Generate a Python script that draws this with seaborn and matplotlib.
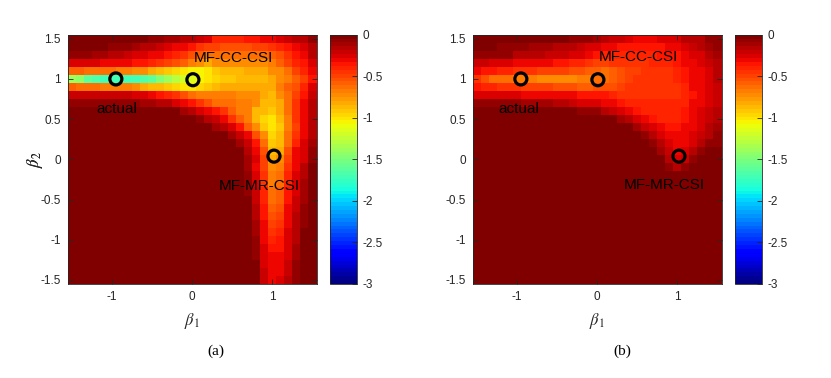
import numpy as np
import pandas as pd
import matplotlib
matplotlib.use("Agg")
import matplotlib.pyplot as plt
import seaborn as sns

# ---------------- data ----------------
beta1 = [-1.5, -1.4, -1.3, -1.2, -1.1, -1.0, -0.9, -0.8, -0.7, -0.6, -0.5, -0.4, -0.3, -0.2, -0.1, 0.0,
         0.1, 0.2, 0.3, 0.4, 0.5, 0.6, 0.7, 0.8, 0.9, 1.0, 1.1, 1.2, 1.3, 1.4, 1.5]
beta2 = [1.5, 1.4, 1.3, 1.2, 1.1, 1.0, 0.9, 0.8, 0.7, 0.6, 0.5, 0.4, 0.3, 0.2, 0.1, 0.0,
         -0.1, -0.2, -0.3, -0.4, -0.5, -0.6, -0.7, -0.8, -0.9, -1.0, -1.1, -1.2, -1.3, -1.4, -1.5]

# each char = level index, value = -index * 0.05 (rows: beta2 from 1.5 down to -1.5)
LEVELS = "0123456789ABCDEFGHIJKLMNOPQRSTUVWXYZ"
STEP = 0.05

rows_a = [
    "0000000000112233458888776654331",
    "00000111233456679AABBBBAA987653",
    "111223345566789BCDDDDDDDDCB9763",
    "555566667789ABCEFGFFFFFFFECA875",
    "CCDDDDEEFFGHIJKLLKIHHHGGGFFDA86",
    "STWXYYYYYXWUSQONLKJIIHHHHGFECA7",
    "CDDDEEEEFGHHIJKKJIHGGGGGGGECB85",
    "44444444556789BDEEEEEFFFGHFDA74",
    "11111111122335679BDDDEEFHHGD963",
    "00000000000000235679CEEHHIGD963",
    "000000000000000013469CEHJKHE963",
    "0000000000000000002357CFIKIEA63",
    "00000000000000000000246BFJHD963",
    "000000000000000000000247DIHD852",
    "000000000000000000000036BHGB651",
    "000000000000000000000025AGFA651",
    "000000000000000000000026AFE9630",
    "0000000000000000000000159ED8530",
    "0000000000000000000000159ED8520",
    "0000000000000000000000148DC7520",
    "0000000000000000000000048DC7420",
    "0000000000000000000000037CB6410",
    "0000000000000000000000037BA6310",
    "0000000000000000000000026A96310",
    "0000000000000000000000026985300",
    "0000000000000000000000016875300",
    "0000000000000000000000015775200",
    "0000000000000000000000015665200",
    "0000000000000000000000005664100",
    "0000000000000000000000004664100",
    "0000000000000000000000004653100",
]

rows_b = [
    "0000000000001112344566655533311",
    "0001111222333455667777776654321",
    "1111133334445567888888877765532",
    "445556666677889AA99999888766543",
    "67788999AAAABBCCDCBAA9999876653",
    "9BDDDEEEFFFFFEEDDCBA99999876653",
    "788999AAAABBBCCBBBA999999986654",
    "5555556666666777789999999987654",
    "1111112222334555667888888886654",
    "0000000000000111345678888876543",
    "0000000000000000002356788876543",
    "0000000000000000000024567766532",
    "0000000000000000000001356665431",
    "0000000000000000000000135665311",
    "0000000000000000000000024653100",
    "0000000000000000000000003541000",
    "0000000000000000000000001310000",
    "0000000000000000000000000000000",
    "0000000000000000000000000000000",
    "0000000000000000000000000000000",
    "0000000000000000000000000000000",
    "0000000000000000000000000000000",
    "0000000000000000000000000000000",
    "0000000000000000000000000000000",
    "0000000000000000000000000000000",
    "0000000000000000000000000000000",
    "0000000000000000000000000000000",
    "0000000000000000000000000000000",
    "0000000000000000000000000000000",
    "0000000000000000000000000000000",
    "0000000000000000000000000000000",
]

marker_b1 = [-0.95, 0.01, 1.02]
marker_b2 = [1.0, 0.99, 0.04]

labels = ["actual", "MF-CC-CSI", "MF-MR-CSI"]
label_pos_a = [(-0.94, 0.62), (0.51, 1.26), (0.84, -0.33)]
label_pos_b = [(-0.97, 0.62), (0.52, 1.27), (0.84, -0.32)]

xticks = [-1, 0, 1]
yticks = [-1.5, -1, -0.5, 0, 0.5, 1, 1.5]
cticks = [0, -0.5, -1, -1.5, -2, -2.5, -3]
panel_names = ["(a)", "(b)"]


def decode(rows):
    return np.array([[-LEVELS.index(c) * STEP for c in r] for r in rows])


def fmt(v):
    return "%g" % v


# ---------------- figure ----------------
plt.rcParams["font.family"] = ["Liberation Sans", "DejaVu Sans"]
plt.rcParams["mathtext.fontset"] = "stix"
W, H = 831, 378
fig = plt.figure(figsize=(W / 100, H / 100), dpi=100)


def rect(x0, y0, x1, y1):
    return [x0 / W, 1 - y1 / H, (x1 - x0) / W, (y1 - y0) / H]


GRAY = "#262626"
cmap = plt.get_cmap("jet", 64)

panels = [
    (rows_a, label_pos_a, (67.7, 34.7, 316.5, 284.0), rect(330, 34.7, 357.3, 284.0), 216),
    (rows_b, label_pos_b, (472.7, 34.7, 721.5, 284.0), rect(735, 34.7, 762.3, 284.0), 622),
]

dx = beta1[1] - beta1[0]


def bx(v):
    return (v - beta1[0]) / dx + 0.5


def by(v):
    return (beta2[0] - v) / dx + 0.5


for k, (rows, lpos, apx, crect, cap_x) in enumerate(panels):
    ax = fig.add_axes(rect(*apx))
    cax = fig.add_axes(crect)
    df = pd.DataFrame(decode(rows), index=beta2, columns=beta1)
    sns.heatmap(df, ax=ax, cmap=cmap, vmin=-3, vmax=0, cbar_ax=cax,
                xticklabels=False, yticklabels=False,
                cbar_kws={"ticks": cticks})
    ax.set_xticks([bx(t) for t in xticks])
    ax.set_xticklabels([fmt(t) for t in xticks])
    ax.set_yticks([by(t) for t in yticks])
    ax.set_yticklabels([fmt(t) for t in yticks], rotation=0)
    ax.tick_params(direction="in", length=3.5, width=0.6, colors=GRAY,
                   labelsize=8.5, top=True, right=True, pad=5)
    for sp in ax.spines.values():
        sp.set_visible(True)
        sp.set_color(GRAY)
        sp.set_linewidth(0.6)
    aw = apx[2] - apx[0]
    ah = apx[3] - apx[1]
    ax.set_xlabel(r"$\beta_1$", fontsize=12, color=GRAY)
    ax.set_ylabel(r"$\beta_2$", fontsize=12, color=GRAY)
    ax.xaxis.set_label_coords(0.5, -(311 - apx[3]) / ah)
    ax.yaxis.set_label_coords(-(apx[0] - 45) / aw, 0.5)

    ax.scatter([bx(v) for v in marker_b1], [by(v) for v in marker_b2], s=75,
               facecolors="none", edgecolors="black", linewidths=2.3, zorder=5)
    for txt, (px, py) in zip(labels, lpos):
        ax.text(bx(px), by(py), txt, ha="center", va="center", fontsize=11,
                color="black", zorder=6)

    cb = ax.collections[0].colorbar
    cb.set_ticks(cticks)
    cb.set_ticklabels([fmt(t) for t in cticks])
    cax.tick_params(direction="in", length=3.5, width=0.6, colors=GRAY,
                    labelsize=8.5, pad=4)
    cb.outline.set_edgecolor(GRAY)
    cb.outline.set_linewidth(0.6)

    fig.text(cap_x / W, 1 - 351 / H, panel_names[k], ha="center", va="center",
             fontsize=11, family="Liberation Serif", color="black")

fig.savefig("out.png", dpi=100)
